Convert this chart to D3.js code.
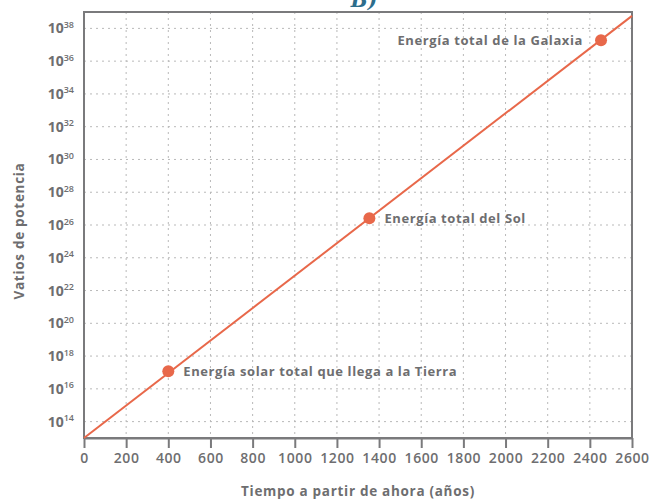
<!DOCTYPE html>
<html>
<head>
<meta charset="utf-8">
<script src="https://cdn.jsdelivr.net/npm/d3@7"></script>
<style>
  html, body { margin: 0; padding: 0; background: #ffffff; }
  svg { display: block; }
  text { font-family: "Open Sans", "Noto Sans", sans-serif; }
</style>
</head>
<body>
<svg id="chart" width="652" height="500"></svg>
<script>
// Growth curve: years from now vs. watts of power (log scale)
const lineYears = [0, 2600];
const lineWatts = [1e13, 5.8e38];

// Milestones marked on the curve
const markerLabels = [
  "Energía solar total que llega a la Tierra",
  "Energía total del Sol",
  "Energía total de la Galaxia"
];
const markerYears = [400, 1354, 2453];
const markerWatts = [1.2e17, 2.6e26, 1.9e37];

// Axis ticks
const xTicks = [0, 200, 400, 600, 800, 1000, 1200, 1400, 1600, 1800, 2000, 2200, 2400, 2600];
const yExponents = [14, 16, 18, 20, 22, 24, 26, 28, 30, 32, 34, 36, 38];

const svg = d3.select("#chart");
const plotLeft = 84, plotRight = 632, plotTop = 12, plotBottom = 438;

const x = d3.scaleLinear().domain([0, 2600]).range([plotLeft, plotRight]);
const y = d3.scaleLog().domain([1e13, 1e39]).range([plotBottom, plotTop]);

const grey = "#6e6e70";
const accent = "#e8684a";

// Title (partly above the frame)
svg.append("text")
  .attr("x", 364).attr("y", 7)
  .attr("text-anchor", "middle")
  .attr("fill", "#2d6d8c")
  .style("font-family", "'DejaVu Serif', serif")
  .style("font-style", "italic")
  .style("font-weight", "bold")
  .style("font-size", "20px")
  .text("B)");

// Dotted grid
const grid = svg.append("g").attr("stroke", "#b9b9b9").attr("stroke-width", 1).attr("stroke-dasharray", "2,4");
grid.selectAll("line.v").data(xTicks.slice(1, -1)).join("line")
  .attr("class", "v")
  .attr("x1", d => x(d)).attr("x2", d => x(d))
  .attr("y1", plotTop).attr("y2", plotBottom);
grid.selectAll("line.h").data(yExponents).join("line")
  .attr("class", "h")
  .attr("x1", plotLeft).attr("x2", plotRight)
  .attr("y1", d => y(Math.pow(10, d))).attr("y2", d => y(Math.pow(10, d)));

// Frame
svg.append("rect")
  .attr("x", plotLeft).attr("y", plotTop)
  .attr("width", plotRight - plotLeft).attr("height", plotBottom - plotTop)
  .attr("fill", "none").attr("stroke", "#7a7a7c").attr("stroke-width", 2);

// X axis
const xAxis = svg.append("g")
  .attr("transform", `translate(0,${plotBottom})`)
  .call(d3.axisBottom(x).tickValues(xTicks).tickSize(10).tickSizeOuter(0).tickFormat(d3.format("d")));
xAxis.select(".domain").attr("stroke", "#7a7a7c").attr("stroke-width", 2);
xAxis.selectAll(".tick line").attr("stroke", "#7a7a7c").attr("stroke-width", 2);
xAxis.selectAll(".tick text")
  .attr("y", 15)
  .attr("fill", grey)
  .style("font-family", "'Open Sans', sans-serif")
  .style("font-weight", "600")
  .style("font-size", "14px")
  .style("letter-spacing", "0.6px");

// Y axis labels with superscript exponents
const yLab = svg.append("g")
  .selectAll("text").data(yExponents).join("text")
  .attr("x", 74)
  .attr("y", d => y(Math.pow(10, d)) + 5)
  .attr("text-anchor", "end")
  .attr("fill", grey)
  .style("font-weight", "700")
  .style("font-size", "14px");
yLab.append("tspan").text("10");
yLab.append("tspan")
  .attr("dy", -5.5)
  .style("font-size", "9px")
  .style("font-weight", "600")
  .text(d => d);

// Axis titles
svg.append("text")
  .attr("x", 358).attr("y", 496)
  .attr("text-anchor", "middle")
  .attr("fill", grey)
  .style("font-weight", "700")
  .style("font-size", "13.5px")
  .style("letter-spacing", "0.7px")
  .text("Tiempo a partir de ahora (años)");

svg.append("text")
  .attr("transform", "translate(24,231) rotate(-90)")
  .attr("text-anchor", "middle")
  .attr("fill", grey)
  .style("font-weight", "700")
  .style("font-size", "13.5px")
  .style("letter-spacing", "0.7px")
  .text("Vatios de potencia");

// Growth line
const pts = lineYears.map((d, i) => [d, lineWatts[i]]);
svg.append("path")
  .datum(pts)
  .attr("fill", "none")
  .attr("stroke", accent)
  .attr("stroke-width", 2)
  .attr("d", d3.line().x(d => x(d[0])).y(d => y(d[1])));

// Milestone markers and labels
const markers = markerYears.map((d, i) => ({ year: d, watts: markerWatts[i], label: markerLabels[i] }));
svg.append("g").selectAll("circle").data(markers).join("circle")
  .attr("cx", d => x(d.year)).attr("cy", d => y(d.watts))
  .attr("r", 6)
  .attr("fill", accent);

svg.append("g").selectAll("text").data(markers).join("text")
  .attr("x", (d, i) => i === 2 ? x(d.year) - 18 : x(d.year) + 15)
  .attr("y", d => y(d.watts) + 4.5)
  .attr("text-anchor", (d, i) => i === 2 ? "end" : "start")
  .attr("fill", grey)
  .style("font-weight", "700")
  .style("font-size", "13px")
  .style("letter-spacing", "0.6px")
  .text(d => d.label);
</script>
</body>
</html>
